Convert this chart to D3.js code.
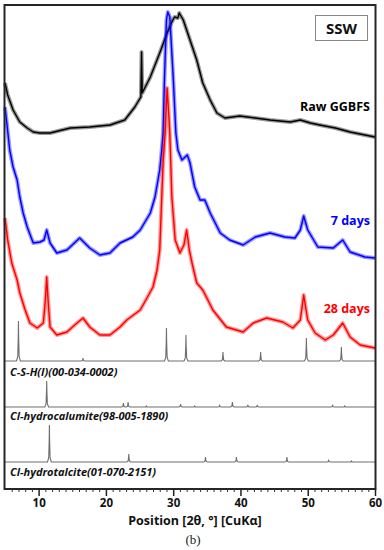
<!DOCTYPE html>
<html><head><meta charset="utf-8">
<script src="https://cdn.jsdelivr.net/npm/d3@7"></script>
<style>body{margin:0;background:#fff}svg{display:block}</style>
</head><body>
<svg id="c" width="384" height="550"></svg>
<script>
// 2θ positions (degrees) and intensities (a.u., patterns offset vertically)
const rawAngle = [5.0,5.4,6.2,7.2,8.3,9.2,10.2,11.7,14.7,17.6,20.6,22.8,24.3,25.1,25.2,25.3,25.4,26.6,28.0,29.1,29.8,30.2,30.7,30.9,31.5,32.5,33.5,34.4,35.5,36.5,37.7,39.9,42.2,44.4,47.4,48.9,50.4,51.8,54.1,56.3,58.5,60.0];
const rawInt   = [406,394,379,367,361,357,356,356,361,362,364,369,382,391,392,437,396,412,436,456,467,472,471,476,469,449,429,406,389,376,371,373,371,369,367,369,366,364,361,357,354,352];

const d7Angle = [5.0,5.3,5.7,6.2,6.8,7.2,7.7,8.3,9.2,10.2,10.8,11.2,11.7,12.7,14.2,16.1,17.6,19.1,20.6,22.1,24.0,25.1,26.6,27.3,28.0,28.3,28.5,28.7,29.0,29.2,29.5,30.0,30.4,30.7,31.3,32.1,32.5,33.2,34.0,34.7,35.5,37.0,38.4,40.4,42.2,44.4,46.6,48.1,48.9,49.4,50.0,51.5,53.8,55.2,56.3,58.5,60.0];
const d7Int   = [382,364,339,322,309,292,276,262,246,247,249,259,246,236,239,251,241,234,236,246,252,259,276,292,319,339,356,409,469,477,472,412,356,339,329,334,326,302,289,289,276,256,249,244,252,256,252,251,259,273,259,242,241,249,237,232,231];

const d28Angle = [5.0,5.4,6.0,6.8,7.2,8.0,8.7,9.8,10.7,11.0,11.2,11.4,11.7,12.7,14.2,15.7,16.6,17.6,19.1,20.6,22.1,23.1,25.1,26.1,27.0,27.6,28.0,28.5,28.8,29.1,29.3,29.5,29.8,30.3,31.0,31.6,32.0,32.4,32.8,33.5,34.4,35.9,37.9,40.4,41.9,43.9,46.3,47.8,48.9,49.4,50.0,51.1,52.6,53.8,55.2,56.3,57.8,60.0];
const d28Int   = [271,249,226,209,196,179,166,161,166,189,212,189,162,154,157,166,171,162,154,154,162,169,179,191,202,219,239,326,356,401,379,356,292,249,236,244,259,239,226,206,199,179,162,157,166,171,167,161,169,194,169,156,149,154,166,152,144,141];

// reference patterns: peak positions (2θ) and heights, with baselines
const cshPos = [7.0,16.6,29.0,31.9,37.4,43.0,49.8,55.0];
const cshInt = [40,3,33,26,9,9,23,14];
const cshBase = 128;
const hcPos = [11.2,22.6,23.3,26.0,31.1,33.2,36.9,38.8,41.1,42.5,53.7,55.5];
const hcInt = [26,4,5,1,3,1,1.5,5,2,2.2,1.5,1];
const hcBase = 82;
const htPos = [11.6,23.4,34.8,39.4,46.9,53.1,56.5];
const htInt = [37,8,5,5,5,1.5,1];
const htBase = 27;

const xTicks = [10,20,30,40,50,60];
const seriesLabels = ["Raw GGBFS","7 days","28 days"];
const refLabels = ["C-S-H(I)(00-034-0002)","Cl-hydrocalumite(98-005-1890)","Cl-hydrotalcite(01-070-2151)"];

const svg = d3.select("#c");
const L=4.5, R=375.5, T=5, B=489;
const x = d3.scaleLinear().domain([5,60]).range([5,375]);
const y = d3.scaleLinear().domain([0,484]).range([489,5]);

const line = d3.line().x(d=>x(d[0])).y(d=>y(d[1]));

function drawSeries(a, v, color){
  const pts = a.map((d,i)=>[d, v[i]]);
  svg.append("path").attr("d", line(pts)).attr("fill","none")
    .attr("stroke", color).attr("stroke-opacity",0.4).attr("stroke-width",4).attr("stroke-linejoin","round");
  svg.append("path").attr("d", line(pts)).attr("fill","none")
    .attr("stroke", color).attr("stroke-width",1.4).attr("stroke-linejoin","round");
}
drawSeries(rawAngle, rawInt, "#000");
drawSeries(d7Angle, d7Int, "#0000ff");
drawSeries(d28Angle, d28Int, "#ff0000");

function drawRef(pos, inten, base){
  const pts = [[5, base]];
  const order = d3.range(pos.length).sort((a,b)=>pos[a]-pos[b]);
  order.forEach(i=>{
    const p = pos[i], h = inten[i];
    pts.push([p-0.28, base],[p-0.1, base+h*0.12],[p-0.03, base+h*0.6],[p, base+h],[p+0.03, base+h*0.6],[p+0.1, base+h*0.12],[p+0.28, base]);
  });
  pts.push([60, base]);
  svg.append("path").attr("d", line(pts)).attr("fill","none")
    .attr("stroke","#6e6e6e").attr("stroke-width",1.1);
}
drawRef(cshPos, cshInt, cshBase);
drawRef(hcPos, hcInt, hcBase);
drawRef(htPos, htInt, htBase);

// frame
svg.append("path").attr("d",`M${L},${B} L${L},${T} L${R},${T} L${R},${B} Z`)
  .attr("fill","none").attr("stroke","#262626").attr("stroke-width",2);

// axis
const ax = svg.append("g").attr("transform",`translate(0,${B})`)
  .call(d3.axisBottom(x).tickValues(d3.range(6,60,1).filter(v=>v%10)).tickSize(3).tickFormat(""));
ax.select(".domain").remove();
ax.selectAll("line").attr("stroke","#333").attr("stroke-width",1);
const ax2 = svg.append("g").attr("transform",`translate(0,${B})`)
  .call(d3.axisBottom(x).tickValues(xTicks).tickSize(7).tickPadding(2.5).tickFormat(d3.format("d")));
ax2.select(".domain").remove();
ax2.selectAll("line").attr("stroke","#222").attr("stroke-width",1.5);
ax2.selectAll("text").attr("font-family","'Open Sans', sans-serif").attr("font-weight","bold")
  .attr("font-size",11.5).attr("fill","#111");

svg.append("text").attr("x",195).attr("y",525).attr("text-anchor","middle")
  .attr("font-family","'Open Sans', sans-serif").attr("font-weight","bold").attr("font-size",12.5)
  .attr("fill","#111").text("Position [2θ, °] [CuKα]");
svg.append("text").attr("x",193).attr("y",544).attr("text-anchor","middle")
  .attr("font-family","'Liberation Serif', serif").attr("font-size",13).attr("fill","#222").text("(b)");

// SSW box
svg.append("rect").attr("x",315.5).attr("y",15.5).attr("width",52).attr("height",25)
  .attr("fill","#fff").attr("stroke","#888").attr("stroke-width",1);
svg.append("text").attr("x",341.5).attr("y",33.5).attr("text-anchor","middle")
  .attr("font-family","'Open Sans', sans-serif").attr("font-weight","bold").attr("font-size",15)
  .attr("fill","#111").text("SSW");

const sl = [[111,"#000"],[225,"#0000ff"],[313,"#ff0000"]];
seriesLabels.forEach((t,i)=>{
  svg.append("text").attr("x",370).attr("y",sl[i][0]).attr("text-anchor","end")
    .attr("font-family","'Open Sans', sans-serif").attr("font-weight","bold").attr("font-size",12.5)
    .attr("fill",sl[i][1]).text(t);
});
const rl = [376,420,476];
refLabels.forEach((t,i)=>{
  svg.append("text").attr("x",10).attr("y",rl[i])
    .attr("font-family","'Open Sans', sans-serif").attr("font-weight","bold").attr("font-style","italic")
    .attr("font-size",11).attr("fill","#111").text(t);
});
</script>
</body></html>
